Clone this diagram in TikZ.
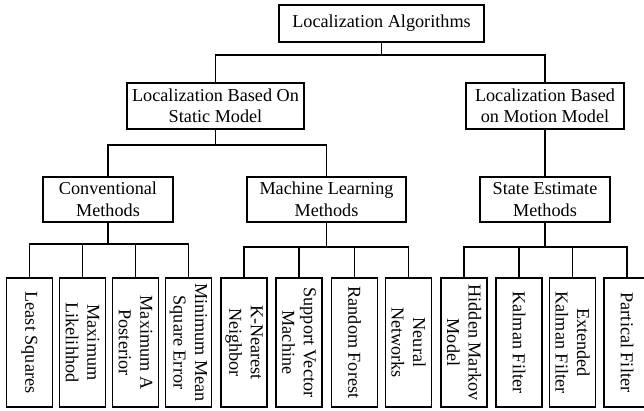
\documentclass[tikz,border=0pt]{standalone}
\usepackage{fontspec}
\setmainfont{Liberation Serif}
\begin{document}
\begin{tikzpicture}[x=1pt,y=-1pt,
  box/.style={draw, line width=1.1pt, inner sep=2pt, align=center,
    font=\fontsize{18.2}{21.5}\selectfont},
  leaf/.style={box, rotate=-90, minimum width=129pt, minimum height=46pt},
  conn/.style={line width=1.2pt}]
\useasboundingbox (0,0) rectangle (644,410);
% level 0
\node[box, minimum width=205pt, minimum height=37pt] (top) at (381.5,23.5) {Localization Algorithms};
% level 1
\node[box, minimum width=177pt, minimum height=46pt] (lbsm) at (215.5,106) {Localization Based On\\Static Model};
\node[box, minimum width=158pt, minimum height=46pt] (lbmm) at (545,106) {Localization Based\\on Motion Model};
% level 2
\node[box, minimum width=130pt, minimum height=45pt] (conv) at (108,199.5) {Conventional\\Methods};
\node[box, minimum width=159pt, minimum height=45pt] (mlm) at (326.5,199.5) {Machine Learning\\Methods};
\node[box, minimum width=130pt, minimum height=45pt] (sem) at (545,199.5) {State Estimate\\Methods};
% leaves
\node[leaf] (ls) at (29.5,342.5) {Least Squares};
\node[leaf] (mlh) at (82.5,342.5) {Maximum\\Likelihhod};
\node[leaf] (map) at (135.5,342.5) {Maximum A\\Posterior};
\node[leaf] (mmse) at (188.5,342.5) {Minimum Mean\\Square Error};
\node[leaf] (knn) at (244,342.5) {K-Nearest\\Neighbor};
\node[leaf] (svm) at (299,342.5) {Support Vector\\Machine};
\node[leaf] (rf) at (354.5,342.5) {Random Forest};
\node[leaf] (nn) at (408.5,342.5) {Neural\\Networks};
\node[leaf] (hmm) at (464,342.5) {Hidden Markov\\Model};
\node[leaf] (kf) at (519,342.5) {Kalman Filter};
\node[leaf] (ekf) at (572.5,342.5) {Extended\\Kalman Filter};
\node[leaf] (pf) at (627,342.5) {Partical Filter};
% junction levels
\coordinate (h0) at (0,55);
\coordinate (h1) at (0,145);
\coordinate (h2) at (0,244);
\coordinate (h3) at (0,247);
% connectors
\foreach \c in {lbsm,lbmm}
  \draw[conn] (top.south) |- (\c.north |- h0) -- (\c.north);
\foreach \c in {conv,mlm}
  \draw[conn] (lbsm.south) |- (\c.north |- h1) -- (\c.north);
\draw[conn] (lbmm.south) -- (sem.north);
\foreach \c in {ls,mlh,map,mmse}
  \draw[conn] (conv.south) |- (\c.west |- h2) -- (\c.west);
\foreach \c in {knn,svm,rf,nn}
  \draw[conn] (mlm.south) |- (\c.west |- h3) -- (\c.west);
\foreach \c in {hmm,kf,ekf,pf}
  \draw[conn] (sem.south) |- (\c.west |- h3) -- (\c.west);
\end{tikzpicture}
\end{document}
